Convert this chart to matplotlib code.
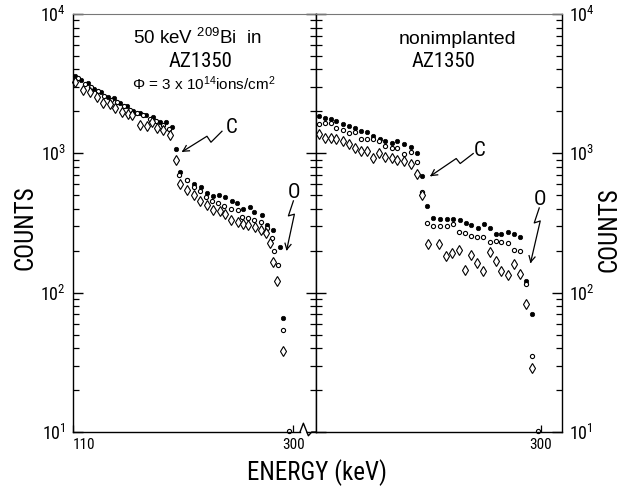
import numpy as np
import matplotlib
matplotlib.use("Agg")
import matplotlib.pyplot as plt
import matplotlib.transforms as mtransforms
from matplotlib import font_manager
from matplotlib.ticker import LogLocator, NullFormatter, FixedLocator, FixedFormatter

# --- fonts: narrow face for capitals, regular face for running text ---
installed = {f.name for f in font_manager.fontManager.ttflist}
NARROW = next((n for n in ["Liberation Sans Narrow", "Roboto Condensed", "Open Sans Condensed",
                           "DejaVu Sans Condensed", "Noto Sans Condensed"]
               if n in installed), None)
REG = "Liberation Sans" if "Liberation Sans" in installed else "DejaVu Sans"
if NARROW is None:
    NARROW = REG
    CAP = 16
else:
    CAP = 18
plt.rcParams["font.family"] = [REG, "DejaVu Sans"]
plt.rcParams["mathtext.default"] = "regular"

# --- 50 keV 209Bi implanted AZ1350 (energy keV, counts) ---
imp_dot_e = [111.7, 117.3, 122.9, 128.5, 134.2, 139.8, 145.4, 151.0, 156.6, 162.2, 167.8, 173.4,
             179.1, 184.7, 190.3, 195.9, 198.9, 202.4, 208.7, 214.5, 220.5, 225.5, 231.2, 236.3,
             241.3, 247.0, 251.9, 257.1, 262.9, 266.6, 273.0, 277.3, 282.5, 288.8, 291.6]
imp_dot_c = [3600, 3350, 3200, 2900, 2750, 2550, 2480, 2280, 2200, 2020, 1960, 1870,
             1810, 1690, 1680, 1540, 1070, 740, 640, 600, 573, 519, 490, 505,
             482, 457, 440, 400, 410, 379, 362, 307, 283, 211, 66]
imp_circ_e = [114.5, 120.1, 125.7, 131.3, 137.0, 142.6, 148.2, 153.8, 159.4, 165.0, 170.6, 176.2,
              181.9, 187.5, 193.1, 201.5, 208.2, 214.5, 219.7, 224.6, 230.3, 235.5, 240.7, 246.4,
              252.2, 255.7, 261.4, 266.3, 272.3, 277.3, 281.6, 283.8, 287.3, 291.6, 296.8]
imp_circ_c = [3450, 3150, 3000, 2780, 2600, 2420, 2330, 2170, 2060, 1950, 1880, 1760,
              1720, 1610, 1500, 700, 646, 573, 538, 482, 452, 440, 416, 400,
              394, 352, 345, 333, 321, 291, 247, 198, 157, 54, 10.2]
imp_diam_e = [111.7, 118.9, 124.7, 130.3, 136.2, 142.0, 146.3, 152.1, 157.5, 160.7, 167.9, 173.6,
              178.2, 182.3, 188.0, 193.8, 198.9, 202.4, 208.7, 214.5, 219.7, 225.5, 231.2, 236.9,
              241.3, 246.4, 252.7, 256.5, 260.9, 267.2, 272.1, 276.7, 280.1, 283.0, 286.4, 291.6]
imp_diam_c = [3270, 2850, 2770, 2550, 2300, 2250, 2110, 1990, 1900, 1880, 1600, 1560,
              1680, 1520, 1470, 1360, 890, 604, 547, 505, 452, 428, 394, 383,
              367, 333, 321, 311, 307, 298, 283, 268, 227, 165, 121, 38]

# --- nonimplanted AZ1350 ---
non_dot_e = [108.3, 113.5, 118.7, 123.6, 129.3, 134.2, 139.4, 145.2, 150.1, 155.3, 161.1, 166.0,
             171.2, 176.0, 182.1, 187.6, 192.8, 197.7, 201.6, 207.3, 213.0, 218.8, 224.6, 230.1,
             235.2, 240.2, 245.9, 251.0, 256.2, 261.1, 266.1, 271.8, 276.9, 282.1, 287.7, 292.2]
non_dot_c = [1857, 1806, 1767, 1718, 1619, 1582, 1531, 1449, 1418, 1334, 1270, 1229,
             1184, 1229, 1164, 1119, 1003, 693, 416, 343, 337, 337, 337, 334,
             316, 307, 291, 311, 291, 265, 265, 271, 265, 251, 122, 70]
non_circ_e = [108.3, 113.5, 118.7, 123.6, 129.3, 134.2, 139.4, 145.2, 150.1, 155.3, 160.2, 166.0,
              171.2, 176.0, 182.1, 187.6, 192.8, 197.7, 201.6, 207.3, 213.0, 218.8, 224.6, 229.4,
              234.6, 239.5, 245.3, 250.4, 255.9, 261.1, 266.1, 271.8, 276.9, 282.1, 287.7, 292.2, 298.0]
non_circ_c = [1626, 1644, 1644, 1517, 1474, 1396, 1418, 1264, 1264, 1264, 1229, 1138,
              1089, 1101, 986, 1030, 865, 524, 316, 302, 302, 302, 312, 271,
              268, 256, 251, 251, 231, 233, 231, 229, 201, 198, 116, 35, 10.2]
non_diam_e = [108.3, 113.5, 118.7, 123.6, 129.3, 134.2, 139.4, 145.2, 150.1, 155.3, 160.7, 166.0,
              171.2, 176.0, 182.1, 187.6, 192.8, 197.7, 202.7, 212.2, 218.0, 223.8, 229.4, 234.6,
              240.2, 245.3, 250.5, 255.9, 261.1, 266.1, 271.8, 276.9, 282.1, 287.0, 292.2]
non_diam_c = [1374, 1299, 1299, 1264, 1229, 1165, 1089, 1047, 1042, 933, 1003, 939,
              924, 898, 884, 837, 710, 504, 223, 223, 182, 193, 201, 145,
              185, 163, 142, 195, 168, 142, 135, 161, 137, 83, 29]

DOT = dict(marker="o", ms=3.2, mfc="black", mec="black", mew=0.5, ls="none", clip_on=False)
CIRC = dict(marker="o", ms=3.0, mfc="white", mec="black", mew=0.8, ls="none", clip_on=False)
DIAM = dict(marker="d", ms=5.4, mfc="white", mec="black", mew=0.8, ls="none", clip_on=False)


def setup_panel(ax, xlim):
    ax.set_yscale("log")
    ax.set_ylim(10, 1e4)
    ax.set_xlim(*xlim)
    ax.yaxis.set_major_locator(LogLocator(base=10))
    ax.yaxis.set_minor_locator(LogLocator(base=10, subs=np.arange(2, 10)))
    ax.yaxis.set_minor_formatter(NullFormatter())
    ax.tick_params(axis="y", which="major", direction="in", length=7, width=1.0, pad=5,
                   labelsize=13, labelfontfamily=NARROW)
    ax.tick_params(axis="y", which="minor", direction="in", length=4.5, width=0.9)
    ax.tick_params(axis="x", which="major", direction="in", length=5, width=0.9, pad=4,
                   labelsize=11, labelfontfamily=NARROW)
    ax.xaxis.set_minor_locator(FixedLocator([]))
    for side in ["left", "right", "bottom"]:
        ax.spines[side].set_linewidth(1.0)
    ax.spines["top"].set_color("#777777")
    ax.spines["top"].set_linewidth(0.8)


def bolt(ax, ref_e, ref_c, path_px, label, label_px):
    # zig-zag pointer drawn in pixel offsets from a data point
    trans = ax.figure.dpi_scale_trans + mtransforms.ScaledTranslation(ref_e, ref_c, ax.transData)
    pts = np.array(path_px, float) / 100.0
    ax.plot(pts[:, 0], pts[:, 1], color="black", lw=0.9, transform=trans, clip_on=False)
    tip, prev = pts[-1], pts[-2]
    d = (tip - prev) / np.hypot(*(tip - prev))
    for ang in (np.radians(28), -np.radians(28)):
        rot = np.array([[np.cos(ang), -np.sin(ang)], [np.sin(ang), np.cos(ang)]])
        wing = tip - rot @ d * 0.065
        ax.plot([tip[0], wing[0]], [tip[1], wing[1]], color="black", lw=0.9,
                transform=trans, clip_on=False)
    ax.text(label_px[0] / 100.0, label_px[1] / 100.0, label, transform=trans, ha="center",
            va="center", fontsize=15, family=NARROW)


fig = plt.figure(figsize=(6.29, 4.86), dpi=100)
ax1 = fig.add_axes([73 / 629, 54 / 486, 243 / 629, 418 / 486])
ax2 = fig.add_axes([316 / 629, 54 / 486, 246 / 629, 418 / 486])

# left panel: implanted resist
setup_panel(ax1, (110, 319.8))
ax1.tick_params(axis="y", which="both", left=True, right=True, labelleft=True, labelright=False)
ax1.xaxis.set_major_locator(FixedLocator([110, 300]))
ax1.xaxis.set_major_formatter(FixedFormatter(["110", "300"]))
ax1.get_xticklabels()[0].set_horizontalalignment("left")
ax1.spines["bottom"].set_bounds(110, 306.0)
brk = mtransforms.blended_transform_factory(ax1.transData, ax1.transAxes)
ax1.plot([306.0, 308.9, 313.2, 316.1, 320.4], [0, 0.021, -0.009, 0, 0], color="black",
         lw=1.0, transform=brk, clip_on=False)
ax1.plot(imp_dot_e, imp_dot_c, **DOT)
ax1.plot(imp_circ_e, imp_circ_c, **CIRC)
ax1.plot(imp_diam_e, imp_diam_c, **DIAM)
ax1.text(0.512, 0.943, r"50 keV $^{209}$Bi  in", transform=ax1.transAxes, ha="center",
         va="center", fontsize=13.5)
ax1.text(0.523, 0.886, "AZ1350", transform=ax1.transAxes, ha="center", va="center",
         fontsize=15, family=NARROW)
ax1.text(0.539, 0.833, r"$\Phi$ = 3 x 10$^{14}$ions/cm$^{2}$", transform=ax1.transAxes,
         ha="center", va="center", fontsize=11)
bolt(ax1, imp_dot_e[16], imp_dot_c[16], [(46, 18), (35, 7), (31, 13), (7, -2)], "C", (56, 22))
bolt(ax1, imp_dot_e[33], imp_dot_c[33], [(13.3, 46.6), (8.3, 31.6), (14.3, 33.3), (6.7, -2)],
     "O", (13.5, 54.5))

# right panel: nonimplanted resist
setup_panel(ax2, (106.0, 318.4))
ax2.tick_params(axis="y", which="both", left=True, right=True, labelleft=False, labelright=True)
ax2.xaxis.set_major_locator(FixedLocator([300]))
ax2.xaxis.set_major_formatter(FixedFormatter(["300"]))
ax2.plot(non_dot_e, non_dot_c, **DOT)
ax2.plot(non_circ_e, non_circ_c, **CIRC)
ax2.plot(non_diam_e, non_diam_c, **DIAM)
ax2.text(0.575, 0.939, "nonimplanted", transform=ax2.transAxes, ha="center", va="center",
         fontsize=14)
ax2.text(0.520, 0.886, "AZ1350", transform=ax2.transAxes, ha="center", va="center",
         fontsize=15, family=NARROW)
bolt(ax2, non_dot_e[17], non_dot_c[17], [(51, 22), (38, 12), (34, 17), (9, 0)], "C", (57, 25))
bolt(ax2, non_dot_e[34], non_dot_c[34], [(12.8, 72.7), (7.8, 57.7), (13.8, 59.7), (4.3, 18.7)],
     "O", (13.6, 81.4))

fig.text(25 / 629, 1 - 228 / 486, "COUNTS", rotation=90, ha="center", va="center",
         fontsize=CAP, family=NARROW)
fig.text(609 / 629, 1 - 230 / 486, "COUNTS", rotation=90, ha="center", va="center",
         fontsize=CAP, family=NARROW)
fig.text(317 / 629, 1 - 473 / 486, "ENERGY (keV)", ha="center", va="center",
         fontsize=CAP, family=NARROW)

fig.savefig("out.png", dpi=100)
